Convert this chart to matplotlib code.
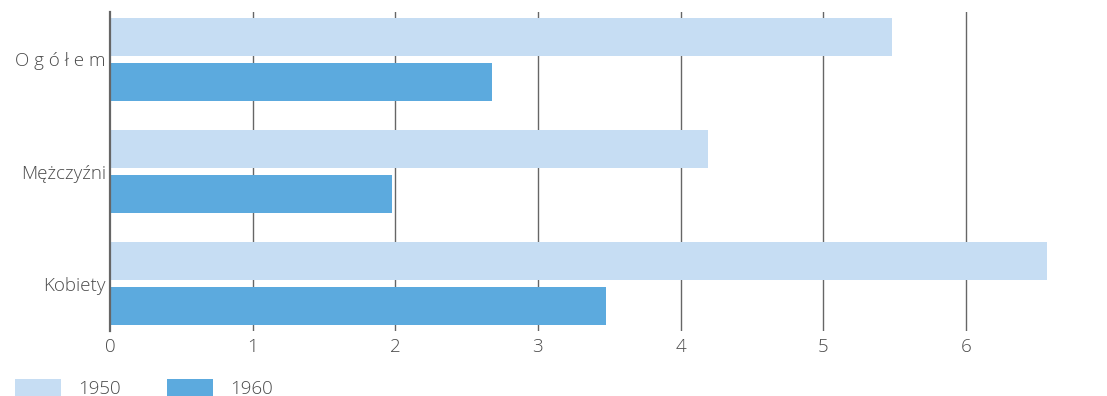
import matplotlib
matplotlib.use("Agg")
import matplotlib.pyplot as plt
import numpy as np
from matplotlib.patches import Patch

categories = ["O g ó ł e m", "Mężczyźni", "Kobiety"]
years = ["1950", "1960"]
values_1950 = [5.48, 4.19, 6.57]
values_1960 = [2.68, 1.98, 3.48]
xticks = [0, 1, 2, 3, 4, 5, 6]

c1950 = "#C6DDF3"
c1960 = "#5CAADE"
textc = "#4a4a4a"

plt.rcParams['font.family'] = ['Open Sans', 'DejaVu Sans']
plt.rcParams['font.weight'] = 'light'

W, H = 1107, 396
fig = plt.figure(figsize=(W/100, H/100), dpi=100)
ax = fig.add_axes([110/W, 1 - 331/H, 1 - 110/W, (331-12)/H])

y = np.arange(len(categories))
off = 0.2
h = 0.34
ax.barh(y - off, values_1950, height=h, color=c1950, zorder=2)
ax.barh(y + off, values_1960, height=h, color=c1960, zorder=2)

ax.set_xlim(0, 6.99)
ax.set_ylim(2.424, -0.424)
ax.set_yticks(y)
ax.set_yticklabels(categories)
ax.set_xticks(xticks)
ax.set_xticklabels([str(t) for t in xticks])
ax.tick_params(axis='both', length=0, labelsize=13.5, labelcolor=textc)
ax.tick_params(axis='y', pad=3)
ax.tick_params(axis='x', pad=5)
for t in xticks[1:]:
    ax.axvline(t, color="#666666", lw=1, zorder=1)
for s in ["top", "right", "bottom"]:
    ax.spines[s].set_visible(False)
ax.spines["left"].set_color("#666666")
ax.spines["left"].set_linewidth(1.6)
ax.spines["left"].set_zorder(3)

handles = [Patch(facecolor=c1950, edgecolor='none'), Patch(facecolor=c1960, edgecolor='none')]
leg = fig.legend(handles, years, loc="lower left", bbox_to_anchor=(15/W, -0.005),
                 ncol=2, frameon=False, handlelength=2.45, handleheight=0.95,
                 columnspacing=2.5, handletextpad=0.9, fontsize=13.5, borderaxespad=0,
                 borderpad=0)
for t in leg.get_texts():
    t.set_color(textc)

fig.savefig("out.png", dpi=100)
